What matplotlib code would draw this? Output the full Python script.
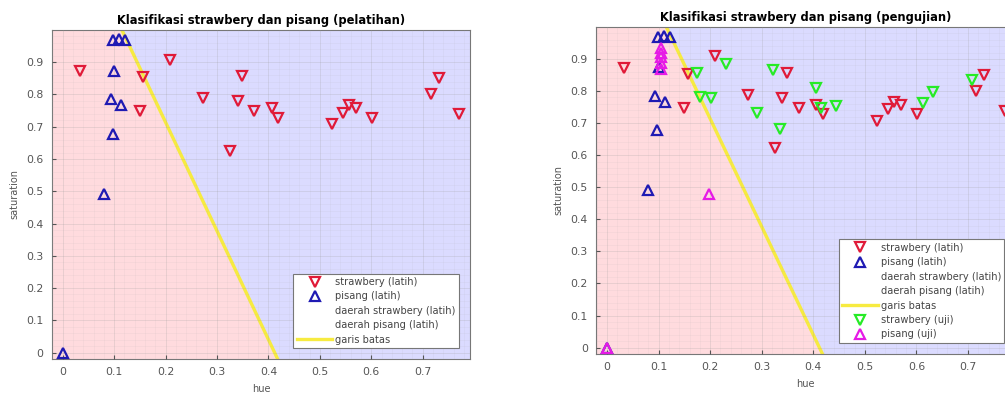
import numpy as np
import matplotlib
matplotlib.use('Agg')
import matplotlib.pyplot as plt
from matplotlib.lines import Line2D
from matplotlib.patches import Patch
from matplotlib.colors import ListedColormap

# data latih (training)
straw_h = [0.033, 0.156, 0.150, 0.209, 0.273, 0.349, 0.340, 0.325, 0.372, 0.406,
           0.419, 0.523, 0.544, 0.557, 0.571, 0.602, 0.716, 0.732, 0.771]
straw_s = [0.872, 0.854, 0.748, 0.908, 0.789, 0.856, 0.779, 0.624, 0.748, 0.758,
           0.728, 0.707, 0.743, 0.766, 0.758, 0.728, 0.800, 0.851, 0.738]
pisang_h = [0.098, 0.110, 0.122, 0.100, 0.093, 0.113, 0.097, 0.080, 0.0]
pisang_s = [0.970, 0.972, 0.970, 0.874, 0.786, 0.766, 0.678, 0.490, 0.0]

# data uji (testing)
straw_uji_h = [0.175, 0.180, 0.202, 0.230, 0.290, 0.322, 0.335, 0.406, 0.414,
               0.445, 0.613, 0.632, 0.707]
straw_uji_s = [0.856, 0.782, 0.779, 0.883, 0.731, 0.865, 0.681, 0.810, 0.746,
               0.753, 0.763, 0.798, 0.836]
pisang_uji_h = [0.105, 0.105, 0.105, 0.105, 0.105, 0.198, 0.0]
pisang_uji_s = [0.870, 0.888, 0.905, 0.920, 0.935, 0.478, 0.0]

# garis batas: s = b0 + b1*h
b0 = 1.387
b1 = -3.367

xlim = (-0.021, 0.792)
ylim = (-0.018, 1.0)

pink = (1.0, 0.86, 0.87)
lav = (0.86, 0.86, 1.0)
c_red = (0.88, 0.10, 0.22)
c_blue = (0.12, 0.10, 0.70)
c_green = (0.15, 0.92, 0.15)
c_mag = (0.90, 0.10, 0.90)
c_yel = (0.97, 0.92, 0.25)
txt = '#555555'


def setup(ax, title):
    hh, ss = np.meshgrid(np.linspace(xlim[0], xlim[1], 400),
                         np.linspace(ylim[0], ylim[1], 400))
    reg = (ss > b0 + b1 * hh).astype(float)
    ax.pcolormesh(hh, ss, reg, cmap=ListedColormap([pink, lav]),
                  shading='auto', zorder=0, rasterized=True)
    hl = np.array([(ylim[1] - b0) / b1, (ylim[0] - b0) / b1])
    ax.plot(hl, b0 + b1 * hl, color=c_yel, lw=2.4, zorder=2)
    ax.set_xlim(xlim)
    ax.set_ylim(ylim)
    ax.set_xticks(np.arange(0, 0.75, 0.1))
    ax.set_yticks(np.arange(0, 0.95, 0.1))
    ax.set_xticklabels(['0'] + ['%.1f' % v for v in np.arange(0.1, 0.75, 0.1)])
    ax.set_yticklabels(['0'] + ['%.1f' % v for v in np.arange(0.1, 0.95, 0.1)])
    ax.set_xticks(np.arange(-0.02, 0.8, 0.02), minor=True)
    ax.set_yticks(np.arange(-0.02, 1.0, 0.02), minor=True)
    ax.grid(True, which='major', color='#999999', alpha=0.25, lw=0.6, zorder=1)
    ax.grid(True, which='minor', color='#aaaaaa', alpha=0.12, lw=0.5, zorder=1)
    ax.set_axisbelow(False)
    ax.tick_params(which='both', direction='in', length=0, labelsize=7.8,
                   colors=txt, pad=6)
    ax.tick_params(which='major', length=3)
    for sp in ax.spines.values():
        sp.set_color('#777777')
        sp.set_linewidth(0.8)
    ax.set_title(title, fontsize=8.3, fontweight='bold', pad=4)
    ax.set_xlabel('hue', fontsize=7, color=txt, labelpad=5)
    ax.set_ylabel('saturation', fontsize=7, color=txt, labelpad=5)


def tri(ax, h, s, m, c):
    ax.plot(h, s, linestyle='none', marker=m, ms=6.8, mfc='none', mec=c,
            mew=1.6, zorder=3)


fig = plt.figure(figsize=(10.05, 3.96), dpi=100)
ax1 = fig.add_axes([0.0517, 0.0934, 0.416, 0.831])
ax2 = fig.add_axes([0.5933, 0.106, 0.417, 0.826])

setup(ax1, 'Klasifikasi strawbery dan pisang (pelatihan)')
setup(ax2, 'Klasifikasi strawbery dan pisang (pengujian)')

for ax in (ax1, ax2):
    tri(ax, straw_h, straw_s, 'v', c_red)
    tri(ax, pisang_h, pisang_s, '^', c_blue)
tri(ax2, straw_uji_h, straw_uji_s, 'v', c_green)
tri(ax2, pisang_uji_h, pisang_uji_s, '^', c_mag)

mk = dict(linestyle='none', ms=6.8, mfc='none', mew=1.6)
handles = [Line2D([], [], marker='v', mec=c_red, **mk),
           Line2D([], [], marker='^', mec=c_blue, **mk),
           Patch(facecolor='none', edgecolor='none'),
           Patch(facecolor='none', edgecolor='none'),
           Line2D([], [], color=c_yel, lw=2.4)]
labels = ['strawbery (latih)', 'pisang (latih)', 'daerah strawbery (latih)',
          'daerah pisang (latih)', 'garis batas']

leg_kw = dict(fontsize=7.1, frameon=True, fancybox=False, borderaxespad=0,
              handlelength=3.6, handletextpad=0.3, labelspacing=0.45,
              borderpad=0.35, labelcolor='#444444', loc='lower right')
l1 = ax1.legend(handles, labels, bbox_to_anchor=(0.974, 0.033), **leg_kw)
l2 = ax2.legend(handles + [Line2D([], [], marker='v', mec=c_green, **mk),
                           Line2D([], [], marker='^', mec=c_mag, **mk)],
                labels + ['strawbery (uji)', 'pisang (uji)'],
                bbox_to_anchor=(0.974, 0.034), **leg_kw)
for l in (l1, l2):
    l.get_frame().set_edgecolor('#777777')
    l.get_frame().set_linewidth(0.8)
    l.get_frame().set_alpha(1.0)

fig.savefig('out.png', dpi=100)
